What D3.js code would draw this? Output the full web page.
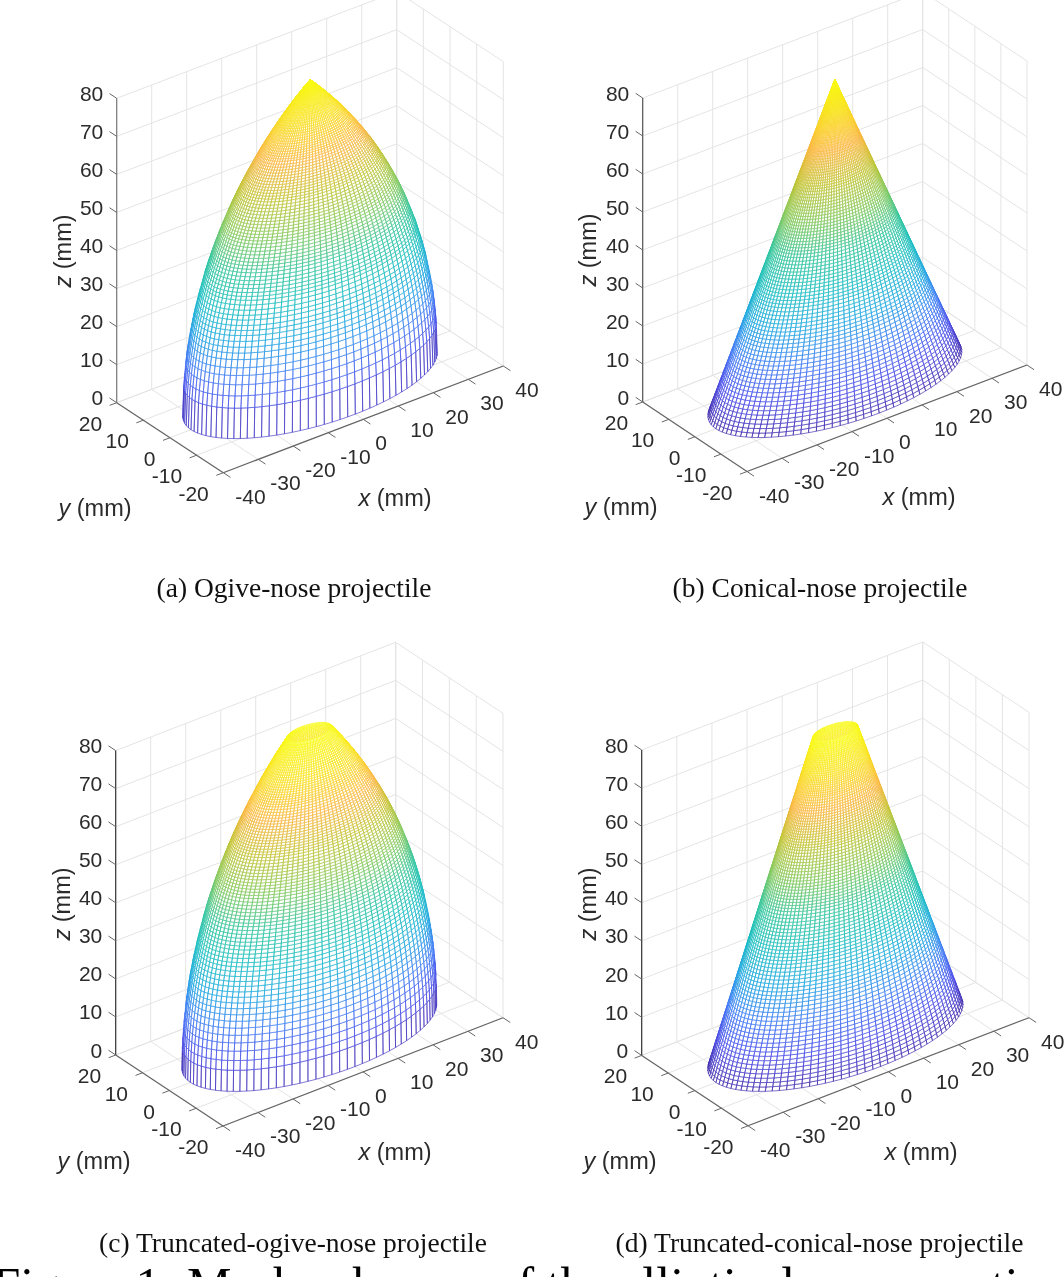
<!DOCTYPE html>
<html>
<head>
<meta charset="utf-8">
<title>Mesh schemes</title>
<script src="https://cdn.jsdelivr.net/npm/d3@7"></script>
<style>
  html, body { margin: 0; padding: 0; background: #fff; overflow: hidden; }
  /* the original is a soft scan of a figure */
  svg { display: block; filter: blur(0.4px); }
</style>
</head>
<body>
<div id="chart"></div>
<script>
// axis ticks, same for all four plots
const xTicks = [-40, -30, -20, -10, 0, 10, 20, 30, 40];
const yTicks = [-20, -10, 0, 10, 20];
const zTicks = [0, 10, 20, 30, 40, 50, 60, 70, 80];

const captions = [
  "(a) Ogive-nose projectile",
  "(b) Conical-nose projectile",
  "(c) Truncated-ogive-nose projectile",
  "(d) Truncated-conical-nose projectile"
];
const figureCaption = "Figure 1: Mesh schemes of the elliptical cross-sectional projectile";

// base ellipse semi axes (mm) and number of meridians
const baseSemiX = 34;
const baseSemiY = 17;
const meridianCount = 100;

// rings: height z (mm) and size relative to the base
const ogiveRingZ = [0, 7.9, 11, 13.8, 16.1, 18, 20, 21.6, 23, 24.4, 25.8, 27, 28.2, 29.5, 30.6, 31.8, 33, 34.1, 35,
  35.9, 36.8, 37.7, 38.6, 39.5, 40.4, 41.2, 42, 42.8, 43.6, 44.4, 45.2, 46, 46.8, 47.5, 48.2, 48.9, 49.6, 50.3, 51,
  51.7, 52.4, 53.1, 53.8, 54.5, 55.2, 55.9, 56.5, 57.1, 57.7, 58.3, 58.9, 59.5, 60.1, 60.7, 61.3, 61.9, 62.5, 63.1,
  63.7, 64.3, 64.8, 65.3, 65.8, 66.3, 66.8, 67.3, 67.8, 68.3, 68.8, 69.3, 69.8, 70.3, 70.8, 71.3, 71.8, 72.3, 72.8,
  73.3, 73.8, 74.3, 74.8, 75.3, 75.8, 76.3, 76.8, 77.3, 77.8, 78.3, 78.8, 79.3, 80];
const ogiveScale = [1, .992, .984, .975, .966, .957, .947, .938, .929, .92, .911, .902, .893, .883, .873, .863, .852, .842, .834,
  .826, .815, .806, .796, .786, .776, .767, .757, .748, .738, .727, .717, .707, .696, .686, .676, .666, .656, .646, .635,
  .625, .614, .602, .591, .58, .568, .556, .546, .535, .525, .514, .503, .492, .481, .469, .457, .446, .434, .422,
  .41, .397, .387, .376, .366, .355, .344, .333, .321, .31, .299, .287, .275, .263, .251, .239, .227, .215, .202,
  .189, .177, .164, .15, .137, .124, .11, .096, .082, .068, .054, .04, .024, 0];

const truncOgiveRingZ = [0, 5.5, 8, 10.4, 12.5, 14.4, 16.2, 17.9, 19.5, 21, 22.4, 23.8, 25.1, 26.4, 27.6, 28.8,
  30, 31.1, 32.1, 33.1, 34.1, 35.1, 36, 36.9, 37.8, 38.7, 39.6, 40.5, 41.3, 42.1, 42.9, 43.7, 44.5, 45.3, 46.1, 46.9,
  47.6, 48.3, 49, 49.7, 50.4, 51.1, 51.8, 52.5, 53.2, 53.9, 54.6, 55.3, 56, 56.6, 57.2, 57.8, 58.4, 59, 59.6, 60.2,
  60.8, 61.4, 62, 62.6, 63.2, 63.8, 64.4, 65, 65.6, 66.2, 66.8, 67.3, 67.8, 68.3, 68.8, 69.3, 69.8, 70.3, 70.8, 71.3,
  71.8, 72.3, 72.8, 73.3, 73.8, 74.3, 74.8, 75.3, 75.8, 76.3, 76.8, 77.3, 77.8, 78.3, 78.8, 79.3, 80];
const truncOgiveScale = [1, .9965, .9927, .9876, .982, .976, .97, .963, .956, .949, .942, .935, .927, .919, .912, .904,
  .895, .887, .88, .872, .864, .856, .848, .84, .833, .824, .816, .807, .799, .791, .783, .774, .766, .757, .748, .739,
  .731, .722, .714, .705, .697, .688, .679, .67, .66, .651, .641, .631, .622, .613, .604, .595, .586, .577, .568, .559,
  .549, .539, .529, .519, .51, .5, .489, .479, .469, .458, .447, .438, .429, .42, .41, .401, .391, .382, .372, .362,
  .352, .342, .332, .322, .312, .301, .291, .28, .27, .259, .248, .236, .225, .214, .202, .19, .174];

const coneRingZ = [0, 1, 2, 3, 4, 5, 6, 7, 8, 9, 10, 11, 12, 13, 14, 15, 16, 17, 18, 19, 20,
  20.9, 21.8, 22.7, 23.6, 24.5, 25.4, 26.3, 27.2, 28.1, 29, 29.8, 30.6, 31.4, 32.2, 33, 33.8, 34.6, 35.4, 36.2, 37,
  37.8, 38.6, 39.4, 40.2, 41, 41.7, 42.4, 43.1, 43.8, 44.5, 45.2, 45.9, 46.6, 47.3, 48, 48.7, 49.4, 50.1, 50.8, 51.5,
  52.2, 52.9, 53.6, 54.3, 55, 55.6, 56.2, 56.8, 57.4, 58, 58.6, 59.2, 59.8, 60.4, 61, 61.6, 62.2, 62.8, 63.4, 64,
  64.6, 65.2, 65.8, 66.4, 67, 67.5, 68, 68.5, 69, 69.5, 70, 70.5, 71, 71.5, 72, 72.5, 73, 73.5, 74, 74.5, 75, 75.5,
  76, 76.5, 77, 77.5, 78, 78.5, 79, 79.5, 80];
const coneTipScale = 0;
const truncConeTipScale = 0.174;

// parula colormap stops, over z from 0 to 80
const parulaStops = [0, .1, .2, .3, .4, .5, .6, .7, .8, .9, 1];
const parulaColors = ["#3e26a8", "#4548e8", "#3a78f5", "#1ba5e0", "#14bcc0", "#2ec49a", "#80c85a", "#c0c432", "#fbb63e", "#f9e020", "#f9fb15"];

const color = d3.scaleLinear()
  .domain(parulaStops.map(d => d * 80))
  .range(parulaColors);

const coneScale = tip => d3.scaleLinear().domain([0, 80]).range([1, tip]);

// placement of each plot on the page: the corners of the floor and the top of the z axis
const panels = [
  { left: [116.7, 402.7], front: [223.3, 472.7], right: [503.3, 366], zTop: 98.3, zAxisColor: "#7a7a7a",
    zTitle: [62.7, 251], xTitle: [395, 498], yTitle: [95, 508], caption: [294, 597],
    rings: ogiveRingZ, scale: ogiveScale },
  { left: [642.7, 402], front: [747, 471.5], right: [1027, 365], zTop: 98, zAxisColor: "#555",
    zTitle: [588, 250], xTitle: [919, 497], yTitle: [621, 507], caption: [820, 597],
    rings: coneRingZ, scale: coneRingZ.map(coneScale(coneTipScale)) },
  { left: [115.7, 1055], front: [223, 1126], right: [503, 1017.7], zTop: 750.6, zAxisColor: "#333",
    zTitle: [62, 904], xTitle: [395, 1152], yTitle: [94, 1161], caption: [293, 1252],
    rings: truncOgiveRingZ, scale: truncOgiveScale },
  { left: [641.7, 1055.4], front: [748, 1125.8], right: [1029, 1017.7], zTop: 750, zAxisColor: "#333",
    zTitle: [588, 904], xTitle: [921, 1152], yTitle: [620, 1161], caption: [819.5, 1252],
    rings: coneRingZ, scale: coneRingZ.map(coneScale(truncConeTipScale)) }
];

const width = 1064, height = 1277;
const tickColor = "#666", gridColor = "#e4e4e4", textColor = "#2b2b2b";

const svg = d3.select("#chart").append("svg")
  .attr("width", width)
  .attr("height", height);

panels.forEach((p, i) => drawPanel(p, captions[i]));

svg.append("text")
  .attr("x", -7.5)
  .attr("y", 1302)
  .style("font-family", "'Liberation Serif', serif")
  .style("font-size", "50px")
  .attr("fill", "#000")
  .text(figureCaption);

function drawPanel(p, caption) {
  // one scale per screen direction for each data axis
  const xToX = d3.scaleLinear().domain([-40, 40]).range([0, p.right[0] - p.front[0]]);
  const xToY = d3.scaleLinear().domain([-40, 40]).range([0, p.right[1] - p.front[1]]);
  const yToX = d3.scaleLinear().domain([-20, 20]).range([0, p.left[0] - p.front[0]]);
  const yToY = d3.scaleLinear().domain([-20, 20]).range([0, p.left[1] - p.front[1]]);
  const zToY = d3.scaleLinear().domain([0, 80]).range([0, p.zTop - p.left[1]]);

  const project = (x, y, z) => [
    p.front[0] + xToX(x) + yToX(y),
    p.front[1] + xToY(x) + yToY(y) + zToY(z)
  ];

  const g = svg.append("g");
  const line = d3.line();

  const seg = (cls, a, b, stroke, w) => g.append("line")
    .attr("class", cls)
    .attr("x1", a[0]).attr("y1", a[1])
    .attr("x2", b[0]).attr("y2", b[1])
    .attr("stroke", stroke)
    .attr("stroke-width", w);

  // grid on the two back walls and the floor
  zTicks.forEach(z => {
    seg("grid", project(-40, 20, z), project(40, 20, z), gridColor, 1);
    seg("grid", project(40, 20, z), project(40, -20, z), gridColor, 1);
  });
  xTicks.forEach(x => {
    seg("grid", project(x, 20, 0), project(x, 20, 80), gridColor, 1);
    seg("grid", project(x, -20, 0), project(x, 20, 0), gridColor, 1);
  });
  yTicks.forEach(y => {
    seg("grid", project(40, y, 0), project(40, y, 80), gridColor, 1);
    seg("grid", project(-40, y, 0), project(40, y, 0), gridColor, 1);
  });

  // axes and ticks
  seg("axis", project(-40, 20, 0), project(-40, 20, 80), p.zAxisColor, 1.2);
  seg("axis", project(-40, -20, 0), project(-40, 20, 0), tickColor, 1.2);
  seg("axis", project(-40, -20, 0), project(40, -20, 0), tickColor, 1.2);

  zTicks.forEach(z => seg("tick", project(-40, 20, z), project(-40, 22.7, z), tickColor, 1));
  xTicks.forEach(x => seg("tick", project(x, -20, 0), project(x, -22.7, 0), tickColor, 1));
  yTicks.forEach(y => seg("tick", project(-40, y, 0), project(-42, y, 0), tickColor, 1));

  // mesh, one path per band of the surface since z is constant around a ring
  const ring = i => d3.range(meridianCount + 1).map(j => {
    const t = 2 * Math.PI * j / meridianCount;
    return project(baseSemiX * p.scale[i] * Math.cos(t), baseSemiY * p.scale[i] * Math.sin(t), p.rings[i]);
  });
  const rings = p.rings.map((z, i) => ring(i));

  const bands = d3.range(p.rings.length - 1).map(i => {
    let front = "", back = "";
    for (let j = 0; j < meridianCount; j++) {
      const quad = [rings[i][j], rings[i][j + 1], rings[i + 1][j + 1], rings[i + 1][j]];
      if (d3.polygonArea(quad) < 0) back += line(quad) + "Z";
      else front += line(quad) + "Z";
    }
    return { z: (p.rings[i] + p.rings[i + 1]) / 2, front, back };
  });

  const mesh = g.append("g")
    .attr("fill", "#fff")
    .attr("stroke-width", 0.65)
    .attr("stroke-linejoin", "round");

  mesh.selectAll("path.back")
    .data(bands.filter(d => d.z > 70))
    .join("path")
    .attr("class", "back")
    .attr("d", d => d.back)
    .attr("stroke", d => color(d.z));

  mesh.selectAll("path.front")
    .data(bands)
    .join("path")
    .attr("class", "front")
    .attr("d", d => d.front)
    .attr("stroke", d => color(d.z));

  // tick labels
  const label = (x, y, anchor, txt) => g.append("text")
    .attr("x", x).attr("y", y)
    .attr("text-anchor", anchor)
    .attr("fill", textColor)
    .style("font-family", "'Liberation Sans', Arial, sans-serif")
    .style("font-size", "21px")
    .text(txt);

  zTicks.forEach(z => {
    const t = project(-40, 20, z);
    label(t[0] - 13.4, t[1] + 2.5, "end", z);
  });
  xTicks.forEach(x => {
    const t = project(x, -20, 0);
    label(t[0] + 12, t[1] + 31, "start", x);
  });
  yTicks.forEach(y => {
    const t = project(-40, y, 0);
    label(t[0] - 14.5, t[1] + 28, "end", y);
  });

  // axis titles
  const title = (pos, name, rotate) => {
    const t = g.append("text")
      .attr("transform", `translate(${pos[0]},${pos[1]}) rotate(${rotate})`)
      .attr("text-anchor", "middle")
      .attr("dy", "0.35em")
      .attr("fill", textColor)
      .style("font-family", "'Liberation Sans', Arial, sans-serif")
      .style("font-size", "23.5px");
    t.append("tspan").style("font-style", "italic").text(name);
    t.append("tspan").text(" (mm)");
  };
  title(p.zTitle, "z", -90);
  title(p.xTitle, "x", 0);
  title(p.yTitle, "y", 0);

  g.append("text")
    .attr("x", p.caption[0]).attr("y", p.caption[1])
    .attr("text-anchor", "middle")
    .attr("fill", "#111")
    .style("font-family", "'Liberation Serif', serif")
    .style("font-size", "27.5px")
    .text(caption);
}
</script>
</body>
</html>
